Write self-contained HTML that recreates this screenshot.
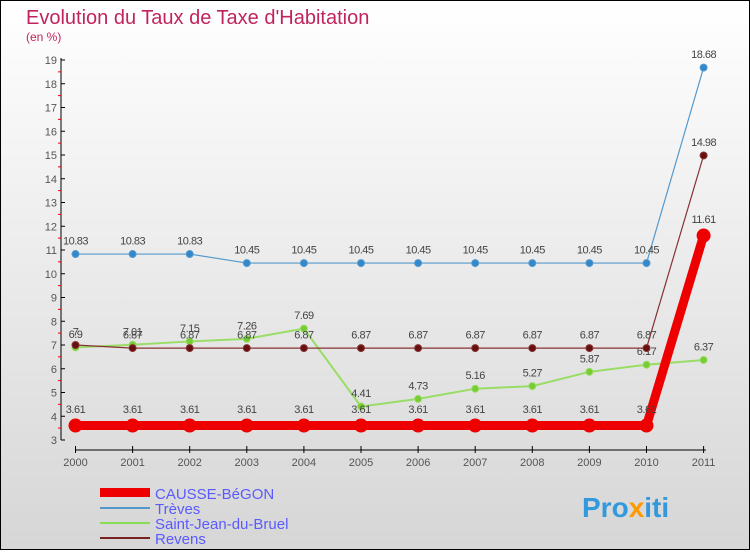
<!DOCTYPE html>
<html><head><meta charset="utf-8"><style>
body{margin:0;width:750px;height:550px;overflow:hidden;font-family:"Liberation Sans",sans-serif;}
svg text{font-family:"Liberation Sans",sans-serif;}
</style></head><body>
<svg width="750" height="550" xmlns="http://www.w3.org/2000/svg">
<defs><linearGradient id="bg" x1="0" y1="0" x2="0" y2="1"><stop offset="0" stop-color="#ffffff"/><stop offset="1" stop-color="#d6d6d6"/></linearGradient></defs>
<rect x="0.5" y="0.5" width="749" height="549" fill="url(#bg)" stroke="#000"/>
<text x="26" y="24" font-size="20" fill="#c0245e">Evolution du Taux de Taxe d'Habitation</text>
<text x="26" y="41" font-size="12" fill="#c0245e">(en %)</text>
<g id="axes"></g><g id="series"></g>
<g>
<rect x="100" y="488" width="50" height="9" fill="#ee0000"/>
<text x="155" y="499" font-size="15" fill="#5a5aff">CAUSSE-BéGON</text>
<line x1="100" y1="508" x2="150" y2="508" stroke="#5599cc" stroke-width="2"/>
<text x="155" y="514" font-size="15" fill="#5a5aff">Trèves</text>
<line x1="100" y1="523" x2="150" y2="523" stroke="#88dd55" stroke-width="2"/>
<text x="155" y="529" font-size="15" fill="#5a5aff">Saint-Jean-du-Bruel</text>
<line x1="100" y1="538" x2="150" y2="538" stroke="#772222" stroke-width="2"/>
<text x="155" y="544" font-size="15" fill="#5a5aff">Revens</text>
</g>
<text x="582" y="517" font-size="28" font-weight="bold" fill="#3399dd">Pro<tspan fill="#ff9900">x</tspan>iti</text>
</svg>
<script>
const years=[2000,2001,2002,2003,2004,2005,2006,2007,2008,2009,2010,2011];
const yTicks=[3,4,5,6,7,8,9,10,11,12,13,14,15,16,17,18,19];
const causse=[3.61,3.61,3.61,3.61,3.61,3.61,3.61,3.61,3.61,3.61,3.61,11.61];
const treves=[10.83,10.83,10.83,10.45,10.45,10.45,10.45,10.45,10.45,10.45,10.45,18.68];
const saintJean=[6.9,7.01,7.15,7.26,7.69,4.41,4.73,5.16,5.27,5.87,6.17,6.37];
const revens=[7,6.87,6.87,6.87,6.87,6.87,6.87,6.87,6.87,6.87,6.87,14.98];
const NS="http://www.w3.org/2000/svg";
const xs=i=>75.5+i*57.1, ys=v=>440-(v-3)*23.75;
function mk(t,a,p){const e=document.createElementNS(NS,t);for(const k in a)e.setAttribute(k,a[k]);p.appendChild(e);return e;}
const ax=document.getElementById('axes');
let l=mk('line',{x1:61,y1:58,x2:61,y2:440,stroke:'#000'},ax);


yTicks.forEach(v=>{const y=ys(v);
 mk('line',{x1:61,y1:y,x2:65,y2:y,stroke:'#000'},ax);
 if(v<19)mk('line',{x1:58,y1:y-11.9,x2:61,y2:y-11.9,stroke:'#e00'},ax);
 const t=mk('text',{x:57,y:y+4,'font-size':11,fill:'#555','text-anchor':'end'},ax);t.textContent=v;
 
 });
l=mk('line',{x1:75,y1:450,x2:706,y2:450,stroke:'#000'},ax);


years.forEach((yr,i)=>{const x=xs(i);
 mk('line',{x1:x,y1:446,x2:x,y2:453,stroke:'#000'},ax);
 const t=mk('text',{x:x,y:466,'font-size':11,fill:'#555','text-anchor':'middle'},ax);t.textContent=yr;
 
 });
const sg=document.getElementById('series');
function series(name,data,col,w,r,dot){
 const g=mk('g',{},sg);
 
 
 const p=mk('polyline',{points:data.map((v,i)=>xs(i)+','+ys(v)).join(' '),fill:'none',stroke:col,'stroke-width':w},g);
 
 
 data.forEach((v,i)=>{const c=mk('circle',{cx:xs(i),cy:ys(v),r:r,fill:dot,stroke:col,'stroke-width':1},g);
  
  
  const t=mk('text',{x:xs(i),y:ys(v)-(r+6),'font-size':11,fill:'#444','text-anchor':'middle','letter-spacing':'-0.5'},g);
  t.textContent=String(v);
  
  });
}
series('treves',treves,'#5599cc',1.2,3.5,'#3388cc');
series('saint-jean',saintJean,'#99dd66',2,3.5,'#77cc33');
series('revens',revens,'#883333',1.2,3.5,'#661111');
series('causse',causse,'#ee0000',9,6.5,'#ee0000');
</script>
</body></html>
